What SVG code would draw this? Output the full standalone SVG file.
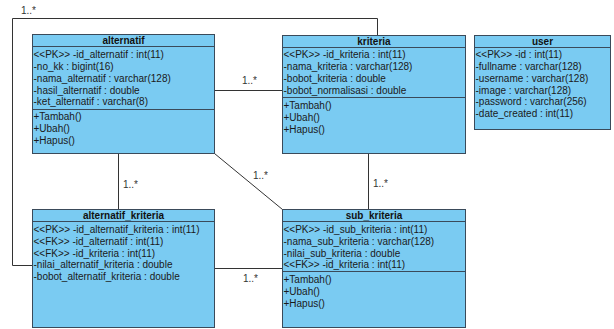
<svg xmlns="http://www.w3.org/2000/svg" width="614" height="329" viewBox="0 0 614 329">
<style>
.box{fill:#7acbf2;stroke:#3a4a5a;stroke-width:1}
.sep{stroke:#3a4a5a;stroke-width:1}
.t{font-family:"Liberation Sans",Arial,sans-serif;font-size:10px;fill:#1a1a1a}
.h{font-family:"Liberation Sans",Arial,sans-serif;font-size:10px;font-weight:bold;fill:#111;text-anchor:middle}
.c{fill:none;stroke:#333;stroke-width:1}
.m{font-family:"Liberation Sans",Arial,sans-serif;font-size:10px;fill:#333}
</style>
<rect width="614" height="329" fill="#fff"/>
<g id="connectors">
<path class="c" d="M32.5 265.5 H12.5 V18.5 H377.5 V35.5"/>
<path class="c" d="M214.5 90.5 H282.5"/>
<path class="c" d="M118.5 153.5 V209.5"/>
<path class="c" d="M214.5 153.5 L282.5 209.5"/>
<path class="c" d="M368.5 153.5 V209.5"/>
<path class="c" d="M214.5 268.5 H282.5"/>
<text class="m" x="21" y="13.5">1..*</text>
<text class="m" x="242" y="83.5">1..*</text>
<text class="m" x="123" y="187.5">1..*</text>
<text class="m" x="253" y="178.5">1..*</text>
<text class="m" x="373" y="187">1..*</text>
<text class="m" x="243" y="282">1..*</text>
</g>
<g id="alternatif">
<rect class="box" x="32.5" y="34.5" width="182" height="119"/>
<line class="sep" x1="32.5" y1="46.5" x2="214.5" y2="46.5"/>
<line class="sep" x1="32.5" y1="109.5" x2="214.5" y2="109.5"/>
<text class="h" x="123.5" y="44">alternatif</text>
<text class="t" x="33.5" y="57.5">&lt;&lt;PK&gt;&gt; -id_alternatif : int(11)</text>
<text class="t" x="33.5" y="69.5">-no_kk : bigint(16)</text>
<text class="t" x="33.5" y="81.5">-nama_alternatif : varchar(128)</text>
<text class="t" x="33.5" y="93.5">-hasil_alternatif : double</text>
<text class="t" x="33.5" y="105">-ket_alternatif : varchar(8)</text>
<text class="t" x="33.5" y="120">+Tambah()</text>
<text class="t" x="33.5" y="132">+Ubah()</text>
<text class="t" x="33.5" y="143.5">+Hapus()</text>
</g>
<g id="kriteria">
<rect class="box" x="282.5" y="35.5" width="183" height="118"/>
<line class="sep" x1="282.5" y1="47.5" x2="465.5" y2="47.5"/>
<line class="sep" x1="282.5" y1="97.5" x2="465.5" y2="97.5"/>
<text class="h" x="374" y="45">kriteria</text>
<text class="t" x="283.5" y="58">&lt;&lt;PK&gt;&gt; -id_kriteria : int(11)</text>
<text class="t" x="283.5" y="69.5">-nama_kriteria : varchar(128)</text>
<text class="t" x="283.5" y="81.5">-bobot_kriteria : double</text>
<text class="t" x="283.5" y="93.5">-bobot_normalisasi : double</text>
<text class="t" x="283.5" y="108.5">+Tambah()</text>
<text class="t" x="283.5" y="120.5">+Ubah()</text>
<text class="t" x="283.5" y="132.5">+Hapus()</text>
</g>
<g id="user">
<rect class="box" x="474.5" y="35.5" width="136" height="94"/>
<line class="sep" x1="474.5" y1="47.5" x2="610.5" y2="47.5"/>
<text class="h" x="542.5" y="45">user</text>
<text class="t" x="475.5" y="58">&lt;&lt;PK&gt;&gt; -id : int(11)</text>
<text class="t" x="475.5" y="69.5">-fullname : varchar(128)</text>
<text class="t" x="475.5" y="81.5">-username : varchar(128)</text>
<text class="t" x="475.5" y="93.5">-image : varchar(128)</text>
<text class="t" x="475.5" y="105">-password : varchar(256)</text>
<text class="t" x="475.5" y="117">-date_created : int(11)</text>
</g>
<g id="alternatif_kriteria">
<rect class="box" x="32.5" y="209.5" width="182" height="118"/>
<line class="sep" x1="32.5" y1="221.5" x2="214.5" y2="221.5"/>
<text class="h" x="123.5" y="219">alternatif_kriteria</text>
<text class="t" x="33.5" y="233">&lt;&lt;PK&gt;&gt; -id_alternatif_kriteria : int(11)</text>
<text class="t" x="33.5" y="244.5">&lt;&lt;FK&gt;&gt; -id_alternatif : int(11)</text>
<text class="t" x="33.5" y="256.5">&lt;&lt;FK&gt;&gt; -id_kriteria : int(11)</text>
<text class="t" x="33.5" y="268">-nilai_alternatif_kriteria : double</text>
<text class="t" x="33.5" y="279.5">-bobot_alternatif_kriteria : double</text>
</g>
<g id="sub_kriteria">
<rect class="box" x="282.5" y="209.5" width="183" height="118"/>
<line class="sep" x1="282.5" y1="221.5" x2="465.5" y2="221.5"/>
<line class="sep" x1="282.5" y1="271.5" x2="465.5" y2="271.5"/>
<text class="h" x="374" y="219">sub_kriteria</text>
<text class="t" x="283.5" y="232.5">&lt;&lt;PK&gt;&gt; -id_sub_kriteria : int(11)</text>
<text class="t" x="283.5" y="244.5">-nama_sub_kriteria : varchar(128)</text>
<text class="t" x="283.5" y="256.5">-nilai_sub_kriteria : double</text>
<text class="t" x="283.5" y="268">&lt;&lt;FK&gt;&gt; -id_kriteria : int(11)</text>
<text class="t" x="283.5" y="282.5">+Tambah()</text>
<text class="t" x="283.5" y="294.5">+Ubah()</text>
<text class="t" x="283.5" y="307">+Hapus()</text>
</g>
</svg>
